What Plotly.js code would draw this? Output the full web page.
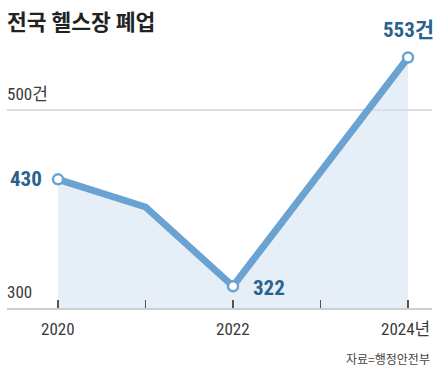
<!DOCTYPE html>
<html>
<head>
<meta charset="utf-8">
<script src="https://cdn.plot.ly/plotly-3.0.1.min.js"></script>
<style>html,body{margin:0;padding:0;background:#fff;}#chart{width:441px;height:377px;}</style>
</head>
<body>
<div id="chart"></div>
<script>
const years = [2020, 2021, 2022, 2023, 2024];
const closures = [430, 402, 322, 438, 553];
const markedYears = [2020, 2022, 2024];
const markedValues = [430, 322, 553];
const pointLabels = ["430", "322", "553건"];
const xTickLabels = ["2020", "2022", "2024년"];
const yTickLabels = ["300", "500건"];
const yTickValues = [300, 500];

const lineColor = "#6aa3d2";
const labelColor = "#2a628e";
const font = "'Liberation Sans Narrow', 'Roboto Condensed', Roboto, 'Noto Sans CJK KR', sans-serif";

const traces = [
  {x: years, y: closures, type: "scatter", mode: "lines", fill: "tozeroy",
   fillcolor: "rgba(214,228,242,0.6)", line: {color: lineColor, width: 7}, hoverinfo: "skip"},
  {x: markedYears, y: markedValues, type: "scatter", mode: "markers",
   marker: {size: 10, color: "#fff", line: {color: lineColor, width: 2.5}}, hoverinfo: "skip"}
];

const annotations = [
  {xref: "paper", yref: "paper", x: -0.004, y: 1, yanchor: "bottom", xanchor: "left", yshift: 2,
   text: "<b>전국 헬스장 폐업</b>", showarrow: false,
   font: {family: "'Noto Sans CJK KR', sans-serif", size: 21.5, color: "#222"}},
  {x: markedYears[0], y: markedValues[0], text: "<b>" + pointLabels[0] + "</b>", showarrow: false,
   xanchor: "right", xshift: -14, font: {family: font, size: 21, color: labelColor}},
  {x: markedYears[1], y: markedValues[1], text: "<b>" + pointLabels[1] + "</b>", showarrow: false,
   xanchor: "left", xshift: 18, yshift: -2, font: {family: font, size: 21, color: labelColor}},
  {x: markedYears[2], y: markedValues[2], text: "<b>" + pointLabels[2] + "</b>", showarrow: false,
   yanchor: "bottom", yshift: 14, xshift: 0, font: {family: font, size: 21, color: labelColor}}
];

yTickValues.forEach((v, i) => {
  annotations.push({xref: "paper", x: -0.005, xanchor: "left", y: v, yanchor: "bottom", yshift: 4,
    text: yTickLabels[i], showarrow: false, font: {family: font, size: 17, color: "#3a3a3a"}});
});
markedYears.forEach((yr, i) => {
  const last = i === markedYears.length - 1;
  annotations.push({x: last ? 2024.274 : yr, xanchor: last ? "right" : "center",
    yref: "paper", y: 0, yanchor: "top", yshift: -9,
    text: xTickLabels[i], showarrow: false, font: {family: font, size: 17, color: "#3a3a3a"}});
});
annotations.push({xref: "paper", yref: "paper", x: 1, xanchor: "right", y: 0, yanchor: "top", yshift: -40,
  text: "자료=행정안전부", showarrow: false,
  font: {family: "'Noto Sans CJK KR', sans-serif", size: 12, color: "#444"}});

const layout = {
  width: 441, height: 377,
  margin: {l: 7, r: 9, t: 40, b: 69},
  paper_bgcolor: "#fff", plot_bgcolor: "#fff",
  showlegend: false,
  xaxis: {range: [2019.417, 2024.274], tickvals: years, ticktext: ["", "", "", "", ""],
    ticks: "inside", ticklen: 8, tickwidth: 1.5, tickcolor: "#555",
    showline: true, linecolor: "#cfcfcf", linewidth: 2, showgrid: false, zeroline: false, fixedrange: true},
  yaxis: {range: [300, 570.7], tickvals: [500], showticklabels: false, showgrid: true,
    gridcolor: "#dcdcdc", gridwidth: 1.5, zeroline: false, showline: false, fixedrange: true},
  annotations: annotations
};

Plotly.newPlot("chart", traces, layout, {displayModeBar: false, staticPlot: true});
</script>
</body>
</html>
